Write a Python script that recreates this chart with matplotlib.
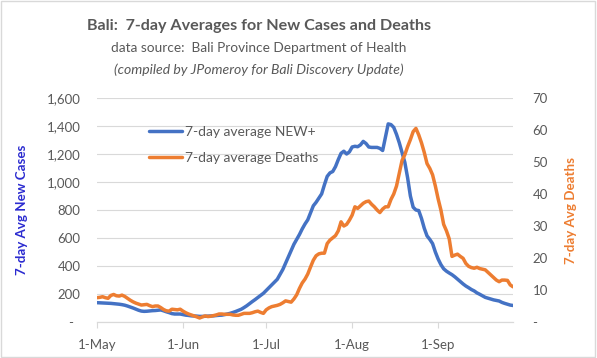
import numpy as np
import pandas as pd
import matplotlib.pyplot as plt
import matplotlib.dates as mdates
from matplotlib.ticker import FuncFormatter, MultipleLocator
from matplotlib.patches import Rectangle

plt.rcParams['font.family'] = ['Lato', 'DejaVu Sans']

# Daily dates, 1 May to 28 Sep
dates = pd.date_range("2021-05-01", "2021-09-28", freq="D")

# 7-day average of new cases
new_cases = [
    138, 137, 136, 135, 134, 133, 131, 129, 127, 124,
    120, 114, 107, 100, 92, 84, 78, 76, 77, 79,
    81, 82, 84, 86, 80, 73, 67, 60, 57, 57,
    57, 53, 49, 47, 44, 43, 42, 40, 40, 41,
    42, 43, 44, 46, 48, 49, 53, 57, 62, 68,
    75, 83, 91, 103, 116, 131, 146, 160, 175, 190,
    205, 225, 245, 265, 285, 305, 340, 375, 420, 465,
    510, 555, 590, 625, 665, 700, 730, 780, 830, 855,
    885, 915, 980, 1040, 1065, 1075, 1110, 1160, 1205, 1220,
    1200, 1215, 1250, 1255, 1252, 1265, 1290, 1275, 1250, 1247,
    1247, 1247, 1240, 1225, 1320, 1415, 1410, 1390, 1340, 1280,
    1210, 1140, 1030, 900, 820, 800, 796, 740, 670, 615,
    590, 560, 500, 450, 410, 380, 363, 350, 338, 323,
    306, 290, 272, 257, 245, 232, 222, 208, 198, 187,
    176, 170, 164, 158, 154, 150, 140, 133, 127, 121,
    118,
]

# 7-day average of deaths
deaths = [
    7.6, 7.7, 7.9, 7.6, 7.4, 8.3, 8.6, 8.2, 8.1, 8.4,
    8.0, 7.4, 6.8, 6.3, 5.9, 5.6, 5.3, 5.4, 5.5, 5.1,
    4.8, 5.0, 5.0, 4.5, 3.9, 3.5, 3.4, 4.0, 3.9, 3.8,
    4.0, 3.4, 2.9, 2.5, 2.2, 1.9, 1.6, 1.25, 1.6, 1.9,
    1.7, 1.8, 2.0, 2.2, 2.5, 2.5, 2.4, 2.4, 2.4, 2.2,
    2.1, 2.1, 2.4, 2.7, 2.7, 2.7, 2.9, 3.2, 3.4, 3.0,
    2.7, 3.8, 4.4, 4.8, 5.0, 5.2, 5.5, 6.0, 6.6, 6.4,
    6.2, 7.2, 8.5, 10.5, 12.2, 13.4, 15.0, 17.2, 19.3, 20.7,
    21.3, 21.5, 21.5, 24.5, 25.6, 26.3, 27.0, 28.5, 31.3, 30.0,
    30.5, 31.8, 33.4, 36.0, 35.5, 36.3, 37.1, 37.6, 37.8, 36.8,
    36.0, 35.0, 34.2, 35.3, 36.0, 36.0, 38.3, 40.0, 42.5, 46.5,
    50.5, 52.3, 54.8, 57.0, 59.5, 60.5, 58.5, 56.0, 53.0, 49.5,
    48.0, 46.0, 42.5, 38.5, 35.0, 30.5, 28.5, 26.0, 20.5, 20.9,
    21.2, 20.5, 19.9, 18.3, 17.4, 17.0, 16.8, 17.1, 16.7, 16.5,
    16.3, 15.5, 14.7, 13.9, 13.1, 12.6, 13.1, 13.1, 13.0, 11.6,
    11.0,
]

month_ticks = pd.to_datetime(["2021-05-01", "2021-06-01", "2021-07-01",
                              "2021-08-01", "2021-09-01"])

blue = "#4472C4"
orange = "#ED7D31"
grey = "#595959"

fig = plt.figure(figsize=(5.97, 3.58), dpi=100)
ax = fig.add_axes([97 / 597, 1 - 322 / 358, 416 / 597, 224 / 358])
ax2 = ax.twinx()

line_cases, = ax.plot(dates, new_cases, color=blue, lw=2.5,
                      label="7-day average NEW+", solid_capstyle="round")
line_deaths, = ax2.plot(dates, deaths, color=orange, lw=2.5,
                        label="7-day average Deaths", solid_capstyle="round")

ax.set_ylim(0, 1600)
ax2.set_ylim(0, 70)
ax.set_xlim(dates[0], dates[-1])
ax.yaxis.set_major_locator(MultipleLocator(200))
ax2.yaxis.set_major_locator(MultipleLocator(10))
ax.yaxis.set_major_formatter(FuncFormatter(lambda v, p: f"{v:,.0f}" if v else "-  "))
ax2.yaxis.set_major_formatter(FuncFormatter(lambda v, p: f"{v:.0f}" if v else "-"))

ax.set_xticks(month_ticks)
ax.xaxis.set_major_formatter(mdates.DateFormatter("%-d-%b"))

ax.grid(axis="y", color="#D9D9D9", lw=0.8)
ax.set_axisbelow(True)
for a in (ax, ax2):
    for s in ("left", "right", "top"):
        a.spines[s].set_visible(False)
    a.spines["bottom"].set_color("#D9D9D9")
ax.tick_params(axis="y", length=0, pad=12, labelsize=9.5, labelcolor=grey)
ax2.tick_params(axis="y", length=0, pad=14, labelsize=9.5, labelcolor=grey)
ax.tick_params(axis="x", length=4, color="#D9D9D9", pad=8, labelsize=9.5, labelcolor=grey)

ax.set_ylabel("7-day Avg New Cases", color="#2B2BD0", fontsize=9.6, fontweight="bold")
ax.yaxis.set_label_coords(-0.166, 0.5)
ax2.set_ylabel("7-day Avg Deaths", color=orange, fontsize=9.6, fontweight="bold")
ax2.yaxis.set_label_coords(1.125, 0.5)

ax2.legend(handles=[line_cases, line_deaths], loc="upper left",
           bbox_to_anchor=(0.095, 0.93), frameon=False, fontsize=10,
           labelcolor=grey, handlelength=2.4, handletextpad=0.2,
           labelspacing=1.0)

fig.text(259 / 597, 1 - 26 / 358, "Bali:  7-day Averages for New Cases and Deaths",
         ha="center", va="center", fontsize=11.6, fontweight="bold", color=grey)
fig.text(259 / 597, 1 - 48 / 358, "data source:  Bali Province Department of Health",
         ha="center", va="center", fontsize=9.8, color=grey)
fig.text(259 / 597, 1 - 70 / 358, "(compiled by JPomeroy for Bali Discovery Update)",
         ha="center", va="center", fontsize=10.1, style="italic", color=grey)

fig.patches.append(Rectangle((0.002, 0.003), 0.995, 0.994, transform=fig.transFigure,
                             fill=False, edgecolor="#D9D9D9", lw=1))

fig.savefig("out.png", dpi=100)
